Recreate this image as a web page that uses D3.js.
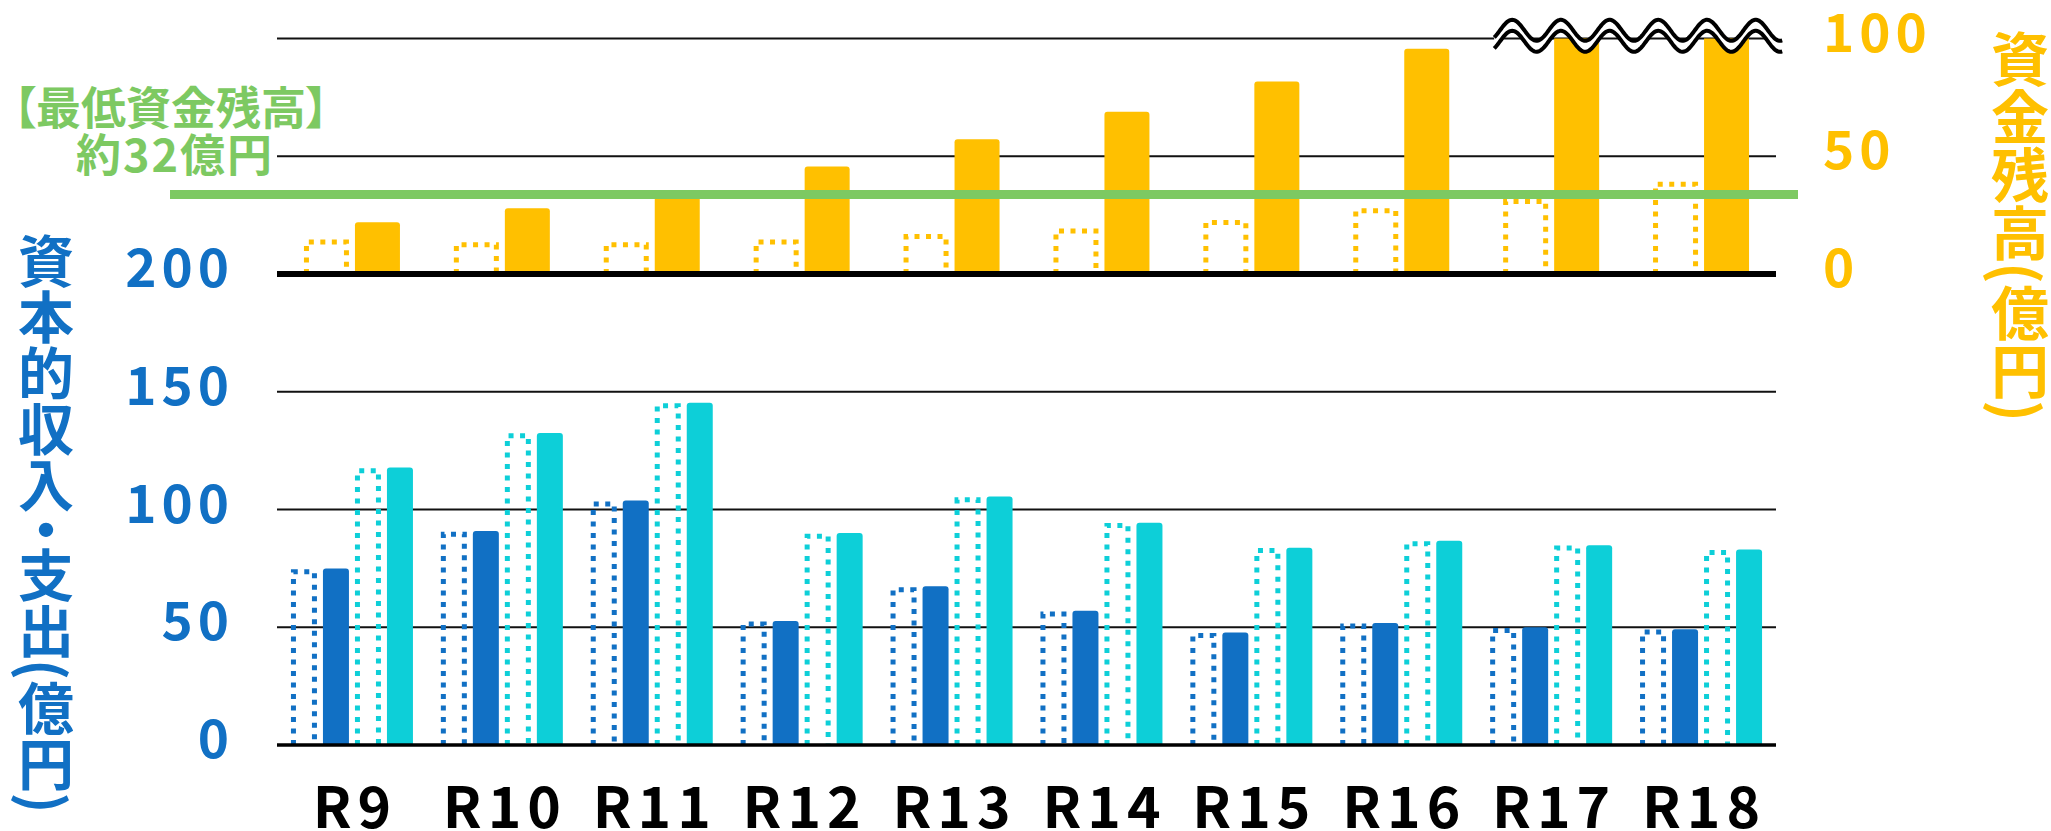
<!DOCTYPE html>
<html>
<head>
<meta charset="utf-8">
<script src="https://cdn.jsdelivr.net/npm/d3@7"></script>
<style>
  body { margin: 0; background: #fff; }
  text { font-family: "Noto Sans CJK JP", "Noto Sans", sans-serif; }
</style>
</head>
<body>
<script>
// 年度
var years = ["R9", "R10", "R11", "R12", "R13", "R14", "R15", "R16", "R17", "R18"]

// 資本的収入 (青)  点線 = 前回計画, 実線 = 今回
var incomePlan   = [74.6, 90.6, 103.4, 52.4, 67.0, 56.7, 47.6, 51.6, 49.7, 49.0]
var incomeNow    = [75.0, 90.9, 103.8, 52.7, 67.4, 57.0, 47.8, 51.8, 50.0, 49.1]
// 資本的支出 (水色)
var expensePlan  = [117.5, 132.4, 145.1, 89.7, 105.2, 94.3, 83.6, 86.5, 84.7, 82.8]
var expenseNow   = [117.8, 132.5, 145.3, 90.0, 105.5, 94.4, 83.8, 86.7, 84.8, 83.0]
// 資金残高 (黄)  R17, R18 の実線は 100 を超えて省略
var balancePlan  = [14.7, 13.5, 13.5, 14.7, 17.0, 19.3, 22.9, 27.9, 31.9, 39.2]
var balanceNow   = [22.0, 27.9, 34.0, 45.6, 57.2, 68.9, 81.7, 95.6, 110, 120]
var minBalance = 33.8

var leftTicks = [0, 50, 100, 150, 200]
var rightTicks = [0, 50, 100]

var blue = "#1170c4", teal = "#0dcfd8", yellow = "#ffc000", green = "#7dc962"

var W = 2051, H = 831
var svg = d3.select("body").append("svg").attr("width", W).attr("height", H)

var x = d3.scaleBand().domain(years).range([277, 1776])
var yLow = d3.scaleLinear().domain([0, 200]).range([745, 274])
var yUp = d3.scaleLinear().domain([0, 100]).range([274, 38.5])

var inner = d3.scaleBand().domain(["ip", "in", "ep", "en"]).range([-61, 61]).paddingInner(0.1875)
var innerUp = d3.scaleBand().domain(["bp", "bn"]).range([-48, 48]).paddingInner(6 / 51)
var cx = function(yr) { return x(yr) + x.bandwidth() / 2 }

// grid lines
var grid = svg.append("g")
grid.selectAll("line.low").data(leftTicks.filter(d => d > 0 && d < 200)).enter().append("line")
  .attr("x1", 277).attr("x2", 1776)
  .attr("y1", d => yLow(d)).attr("y2", d => yLow(d))
  .attr("stroke", "#111").attr("stroke-width", 2)
grid.selectAll("line.up").data(rightTicks.filter(d => d > 0)).enter().append("line")
  .attr("x1", 277).attr("x2", 1776)
  .attr("y1", d => yUp(d)).attr("y2", d => yUp(d))
  .attr("stroke", "#111").attr("stroke-width", 2)

// solid bars
function solidBars(g, vals, key, sc, yScale, color) {
  g.selectAll(null).data(years).enter().append("path")
    .attr("fill", color)
    .attr("d", function(yr, i) {
      var v = Math.min(vals[i], yScale.domain()[1])
      var x0 = cx(yr) + sc(key), w = sc.bandwidth()
      var y0 = yScale(v), y1 = yScale(0), r = v >= yScale.domain()[1] ? 0 : 3
      return "M" + x0 + "," + y1 + "V" + (y0 + r) + "Q" + x0 + "," + y0 + " " + (x0 + r) + "," + y0 +
        "H" + (x0 + w - r) + "Q" + (x0 + w) + "," + y0 + " " + (x0 + w) + "," + (y0 + r) + "V" + y1 + "Z"
    })
}
// dotted outline bars
function dottedBars(g, vals, key, sc, yScale, color) {
  var sw = 5
  g.selectAll(null).data(years).enter().append("path")
    .attr("fill", "none").attr("stroke", color).attr("stroke-width", sw)
    .attr("stroke-dasharray", "5 6.5")
    .attr("d", function(yr, i) {
      var x0 = cx(yr) + sc(key) + sw / 2, w = sc.bandwidth() - sw
      var y0 = yScale(vals[i]) + sw / 2, y1 = yScale(0)
      return "M" + x0 + "," + y1 + "V" + y0 + "H" + (x0 + w) + "V" + y1
    })
}

var bars = svg.append("g")
solidBars(bars, incomeNow, "in", inner, yLow, blue)
solidBars(bars, expenseNow, "en", inner, yLow, teal)
solidBars(bars, balanceNow, "bn", innerUp, yUp, yellow)
dottedBars(bars, incomePlan, "ip", inner, yLow, blue)
dottedBars(bars, expensePlan, "ep", inner, yLow, teal)
dottedBars(bars, balancePlan, "bp", innerUp, yUp, yellow)

// base lines
svg.append("line").attr("x1", 277).attr("x2", 1776)
  .attr("y1", yLow(0)).attr("y2", yLow(0)).attr("stroke", "#000").attr("stroke-width", 3.5)
svg.append("line").attr("x1", 277).attr("x2", 1776)
  .attr("y1", yUp(0)).attr("y2", yUp(0)).attr("stroke", "#000").attr("stroke-width", 6)

// minimum balance line
svg.append("line").attr("x1", 170).attr("x2", 1798)
  .attr("y1", yUp(minBalance)).attr("y2", yUp(minBalance))
  .attr("stroke", green).attr("stroke-width", 9)

var note = svg.append("text").attr("fill", green).attr("font-size", 45).attr("font-weight", 700)
  .attr("text-anchor", "middle").style("font-feature-settings", "'palt'")
note.append("tspan").attr("x", 171).attr("y", 125).text("【最低資金残高】")
note.append("tspan").attr("x", 175).attr("y", 172).attr("letter-spacing", 2).text("約32億円")

// wave break over R17, R18
var w0 = x("R17") + 18, w1 = x("R18") + x.bandwidth() + 6
var period = 48.7, amp = 10.5, yc = 30.3, gap = 11
var pts = d3.range(w0, w1 + 0.5, 1)
var wy = function(px) { return yc - amp * Math.cos(2 * Math.PI * (px - w0 - 18) / period) }
var upper = pts.map(p => [p, wy(p)])
var lower = pts.map(p => [p, wy(p) + gap])
var line = d3.line()
svg.append("path").attr("fill", "#fff")
  .attr("d", line(upper.concat(lower.slice().reverse())) + "Z")
svg.append("path").attr("fill", "none").attr("stroke", "#000").attr("stroke-width", 4).attr("d", line(upper))
svg.append("path").attr("fill", "none").attr("stroke", "#000").attr("stroke-width", 4).attr("d", line(lower))

// axis labels
svg.append("g").selectAll("text").data(leftTicks).enter().append("text")
  .attr("x", 234).attr("y", d => yLow(d) + 13)
  .attr("text-anchor", "end").attr("fill", blue)
  .attr("font-size", 53).attr("font-weight", 700).attr("letter-spacing", 5)
  .text(d => d)
svg.append("g").selectAll("text").data(rightTicks).enter().append("text")
  .attr("x", 1823).attr("y", d => yUp(d) + 13)
  .attr("fill", yellow)
  .attr("font-size", 53).attr("font-weight", 700).attr("letter-spacing", 5)
  .text(d => d)
svg.append("g").selectAll("text").data(years).enter().append("text")
  .attr("x", d => cx(d) + 3).attr("y", 828)
  .attr("text-anchor", "middle").attr("fill", "#000")
  .attr("font-size", 57).attr("font-weight", 700).attr("letter-spacing", 6)
  .text(d => d)

// vertical titles
var lt = svg.append("text").attr("x", 46).attr("y", 233)
  .style("writing-mode", "vertical-rl").style("text-orientation", "mixed")
  .attr("fill", blue).attr("font-size", 56).attr("font-weight", 700)
lt.append("tspan").text("資本的収入")
lt.append("tspan").attr("dy", -11).text("・")
lt.append("tspan").attr("dy", -11).text("支出(億円)")
svg.append("text").attr("x", 2020).attr("y", 30)
  .style("writing-mode", "vertical-rl").style("text-orientation", "mixed")
  .attr("fill", yellow).attr("font-size", 58).attr("font-weight", 700)
  .text("資金残高(億円)")
</script>
</body>
</html>
